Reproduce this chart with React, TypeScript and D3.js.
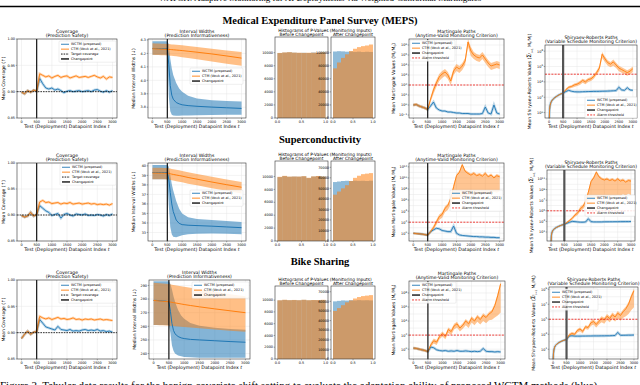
import React from 'react';
import * as d3 from 'd3';

const BLUE = '#1f77b4';
const ORANGE = '#ff7f0e';
const RED = '#ee2a24';
const SANS = '"DejaVu Sans", Verdana, sans-serif';
const SERIF = '"Liberation Serif", "Times New Roman", serif';

// x grids
const tGrid = d3.range(0, 3001, 100);
const widthT = [0, 100, 200, 300, 400, 500, 550, 600, 650, 700, 800, 900, 1000, 1200, 1500, 2000, 2500, 3000];
const srT = [5, 15, 30, 60, ...d3.range(100, 3001, 100)];
const timeTicks = [0, 500, 1000, 1500, 2000, 2500, 3000];
const binEdges = [0, 0.1, 0.2, 0.3, 0.4, 0.5, 0.6, 0.7, 0.8, 0.9, 1.0];
const changepoint = 500;
const targetCoverage = 0.9;
const martAlarm = 2; // log10
const srAlarm = 5; // log10

// ---------- MEPS ----------
const mepsCovW = [0.899,0.896,0.902,0.899,0.903,0.901,0.925,0.915,0.907,0.905,0.907,0.903,0.905,0.902,0.898,0.901,0.902,0.900,0.901,0.902,0.900,0.901,0.902,0.900,0.903,0.904,0.901,0.899,0.902,0.899,0.902];
const mepsCovC = [0.899,0.896,0.902,0.899,0.903,0.901,0.934,0.931,0.928,0.930,0.926,0.929,0.931,0.927,0.929,0.930,0.926,0.928,0.930,0.927,0.928,0.929,0.927,0.929,0.931,0.928,0.926,0.929,0.924,0.928,0.927];
const mepsWidW = [4.237,4.236,4.236,4.235,4.235,4.234,4.12,3.96,3.89,3.86,3.835,3.825,3.818,3.812,3.807,3.801,3.796,3.791];
const mepsWidWLo = [4.19,4.19,4.19,4.19,4.19,4.19,3.88,3.77,3.745,3.738,3.736,3.737,3.738,3.739,3.740,3.742,3.744,3.745];
const mepsWidWHi = [4.29,4.29,4.29,4.29,4.29,4.29,4.27,4.16,4.09,4.04,3.98,3.94,3.915,3.885,3.865,3.852,3.846,3.842];
const mepsWidC = [4.235,4.234,4.233,4.232,4.231,4.230,4.229,4.229,4.228,4.227,4.225,4.223,4.221,4.216,4.209,4.196,4.181,4.165];
const mepsWidCLo = [4.19,4.189,4.188,4.187,4.186,4.185,4.184,4.183,4.182,4.181,4.178,4.175,4.172,4.165,4.156,4.140,4.124,4.108];
const mepsWidCHi = [4.275,4.274,4.273,4.272,4.271,4.270,4.269,4.268,4.267,4.266,4.264,4.262,4.260,4.255,4.248,4.235,4.222,4.210];
const mepsHistBeforeW = [9940,10010,10060,10000,9960,9980,9950,10020,9980,10030];
const mepsHistBeforeC = [9960,10040,10080,10010,9990,9970,9990,10000,10010,10060];
const mepsHistAfterW = [101800,102300,102000,101500,101800,101200,101600,101000,101400,101100];
const mepsHistAfterC = [76000,85000,92000,97500,102500,106000,108500,110000,111000,112500];
const mepsMgW = [0,0.05,-0.1,-0.2,-0.3,-0.45,-0.1,0.3,-0.3,-0.5,-0.6,-0.6,-0.7,-0.7,-0.75,-0.8,-0.8,-0.85,-0.85,-0.85,-0.9,-0.9,-0.9,-0.9,-0.85,-0.2,-0.8,-0.9,0.0,-0.8,-0.9];
const mepsMgC = [0,0.05,-0.1,-0.2,-0.3,-0.45,0.6,1.5,2.2,2.8,3.1,3.3,3.0,2.4,3.4,3.8,3.6,3.9,4.4,6.3,5.4,5.0,4.8,4.7,5.0,4.6,4.2,3.9,4.0,4.1,4.0];
const mepsMgCLo = [-0.15,-0.1,-0.25,-0.35,-0.45,-0.6,0.3,1.1,1.8,2.4,2.7,2.9,2.6,2.0,3.0,3.4,3.2,3.5,4.0,5.8,4.9,4.6,4.4,4.3,4.6,4.2,3.8,3.5,3.6,3.7,3.6];
const mepsMgCHi = [0.15,0.2,0.05,-0.05,-0.15,-0.3,0.8,1.8,2.5,3.1,3.4,3.6,3.3,2.7,3.7,4.1,3.9,4.2,4.7,6.6,5.8,5.3,5.1,5.0,5.3,4.9,4.5,4.2,4.3,4.4,4.3];
const mepsSrW = [-0.8,0.4,0.9,1.3,1.6,1.95,2.2,2.4,2.55,2.75,2.9,2.78,2.72,2.7,2.7,2.72,2.73,2.74,2.75,2.76,2.76,2.77,2.78,2.79,2.8,2.82,2.84,2.86,3.3,2.95,2.9,3.25,2.95,2.9];
const mepsSrC = [-0.8,0.4,0.9,1.3,1.6,1.95,2.2,2.4,2.55,3.0,3.3,3.4,3.6,3.7,3.9,4.2,4.0,4.3,4.4,4.7,5.2,5.8,7.6,7.0,6.5,6.3,6.6,6.2,5.8,5.6,5.4,5.2,5.4,5.7];
const mepsSrCLo = [-0.8,0.35,0.85,1.25,1.55,1.9,2.15,2.35,2.5,2.8,3.1,3.2,3.35,3.45,3.6,3.9,3.7,4.0,4.1,4.4,4.9,5.4,7.1,6.6,6.1,5.9,6.1,5.8,5.4,5.2,5.0,4.8,5.0,5.3];
const mepsSrCHi = [-0.8,0.45,0.95,1.35,1.65,2.0,2.25,2.45,2.6,3.15,3.45,3.55,3.8,3.9,4.1,4.4,4.25,4.5,4.65,4.95,5.45,6.1,7.9,7.3,6.8,6.6,6.9,6.5,6.1,5.9,5.7,5.5,5.7,6.0];

// ---------- Superconductivity ----------
const scCovW = [0.899,0.896,0.898,0.905,0.898,0.901,0.918,0.913,0.908,0.905,0.899,0.901,0.903,0.894,0.901,0.903,0.900,0.898,0.902,0.901,0.900,0.902,0.899,0.900,0.899,0.901,0.900,0.898,0.901,0.899,0.902];
const scCovC = [0.899,0.896,0.898,0.905,0.898,0.901,0.925,0.928,0.924,0.925,0.922,0.923,0.924,0.921,0.923,0.922,0.924,0.921,0.922,0.923,0.921,0.922,0.923,0.921,0.922,0.920,0.921,0.920,0.921,0.919,0.922];
const scWidW = [39.3,39.3,39.3,39.3,39.3,39.3,38.6,37.2,36.0,35.2,34.3,33.95,33.82,33.76,33.72,33.66,33.58,33.5];
const scWidWLo = [38.6,38.6,38.6,38.6,38.6,38.6,35.8,33.6,32.8,32.55,32.5,32.6,32.7,32.8,32.85,32.9,32.85,32.8];
const scWidWHi = [40.1,40.1,40.1,40.1,40.1,40.1,39.9,39.0,38.1,37.4,36.3,35.5,35.0,34.6,34.4,34.3,34.2,34.1];
const scWidC = [39.25,39.25,39.24,39.24,39.23,39.22,39.20,39.17,39.13,39.10,39.04,38.98,38.92,38.78,38.60,38.3,38.02,37.75];
const scWidCLo = [38.6,38.6,38.59,38.59,38.58,38.57,38.55,38.52,38.48,38.45,38.39,38.33,38.27,38.13,37.95,37.65,37.37,37.1];
const scWidCHi = [39.8,39.8,39.79,39.79,39.78,39.77,39.75,39.72,39.68,39.65,39.59,39.53,39.47,39.33,39.15,38.85,38.57,38.3];
const scHistBeforeW = [9900,10050,9950,9980,9960,10020,9750,9990,10050,9960];
const scHistBeforeC = [9950,10100,9980,10000,9990,10050,9800,10020,10080,9990];
const scHistAfterW = [56000,56500,57000,57200,57000,57300,57100,57200,57000,57300];
const scHistAfterC = [44000,47000,50000,53000,57000,60000,62000,63500,64000,64500];
const scMgW = [0,-0.05,-0.1,-0.15,-0.25,-0.35,0.3,0.6,0.9,0.8,0.5,0.4,0.3,0.3,1.3,0.0,-0.3,-0.4,-0.45,-0.5,-0.55,-0.6,-0.6,-0.65,-0.65,-0.7,-0.7,-0.75,-0.75,-0.8,-0.8];
const scMgC = [0,-0.05,-0.1,-0.15,-0.25,-0.35,0.3,1.0,2.0,3.0,3.4,4.5,5.0,6.3,8.4,10.4,11.0,12.4,11.2,10.8,10.5,10.8,10.4,10.6,10.3,10.8,10.2,10.5,10.0,10.4,10.2];
const scMgCLo = [-0.2,-0.25,-0.3,-0.35,-0.45,-0.55,0.0,0.6,1.5,2.4,2.8,3.8,4.2,5.2,6.0,6.2,6.5,6.8,6.6,6.9,7.0,6.8,7.2,7.0,7.3,7.1,7.4,7.2,7.5,7.3,7.6];
const scMgCHi = [0.2,0.15,0.1,0.05,-0.05,-0.15,0.6,1.4,2.4,3.4,3.8,4.9,5.4,6.7,8.8,10.7,11.3,12.6,11.5,11.1,10.8,11.1,10.7,10.9,10.6,11.1,10.5,10.8,10.3,10.7,10.5];
const scSrW = [-0.8,0.3,0.8,1.2,1.5,1.85,2.1,2.3,2.45,2.65,2.85,3.0,2.95,2.9,2.85,2.85,2.9,3.5,2.95,2.9,2.9,2.9,2.9,2.92,2.92,2.93,2.93,2.94,2.94,2.95,2.95,2.96,2.96,2.97];
const scSrC = [-0.8,0.3,0.8,1.2,1.5,1.85,2.1,2.3,2.45,2.8,3.2,3.6,4.2,4.6,5.4,5.8,6.8,8.5,10.5,11.2,12.3,11.4,11.0,10.8,11.0,10.7,10.9,10.6,11.0,10.6,10.8,10.4,10.7,10.6];
const scSrCLo = [-0.8,0.25,0.75,1.15,1.45,1.8,2.05,2.25,2.4,2.6,3.0,3.3,3.9,4.2,4.9,5.3,6.0,6.8,7.2,7.0,7.4,7.2,7.6,7.4,7.8,7.6,7.9,7.7,8.0,7.8,8.1,7.9,8.2,8.0];
const scSrCHi = [-0.8,0.35,0.85,1.25,1.55,1.9,2.15,2.35,2.5,3.0,3.4,3.9,4.5,4.9,5.8,6.2,7.2,8.9,10.8,11.5,12.6,11.7,11.3,11.1,11.3,11.0,11.2,10.9,11.3,10.9,11.1,10.7,11.0,10.9];

// ---------- Bike Sharing ----------
const bikeCovW = [0.889,0.897,0.903,0.897,0.901,0.902,0.925,0.918,0.911,0.909,0.907,0.905,0.912,0.906,0.905,0.904,0.906,0.903,0.904,0.903,0.905,0.906,0.904,0.905,0.904,0.906,0.903,0.904,0.902,0.903,0.901];
const bikeCovC = [0.889,0.897,0.903,0.897,0.901,0.902,0.931,0.928,0.926,0.928,0.925,0.927,0.929,0.926,0.927,0.925,0.926,0.928,0.925,0.926,0.924,0.926,0.925,0.926,0.924,0.925,0.926,0.924,0.925,0.924,0.923];
const bikeWidW = [279,279,278.8,278.6,278.4,278,271,262,257,254.5,252.5,251.5,251,250.4,250,249.4,248.8,248.3];
const bikeWidWLo = [261,261,261,261,261,261,255,246,242,240,238.5,238,237.5,237.2,237,237,237,237];
const bikeWidWHi = [293,293,293,293,293,293,291,287,282,278,272,268,265.5,262.5,260.5,259,258,257.5];
const bikeWidC = [279,278.8,278.6,278.4,278.2,278,277.8,277.6,277.4,277.2,276.8,276.4,276.0,275.3,274.3,272.8,271.4,270];
const bikeWidCLo = [261,260.9,260.8,260.7,260.6,260.5,260.4,260.3,260.2,260.1,259.9,259.7,259.5,259.1,258.6,257.7,256.8,256];
const bikeWidCHi = [292,291.8,291.6,291.4,291.2,291,290.8,290.6,290.4,290.2,289.8,289.4,289,288.3,287.2,285.4,283.6,282];
const bikeHistBeforeW = [9950,10030,9980,10010,9970,10040,9960,10000,9990,10020];
const bikeHistBeforeC = [9980,10060,10000,10030,9990,10060,9990,10020,10010,10050];
const bikeHistAfterW = [60000,60500,61000,60800,61200,61000,61300,61100,61200,61000];
const bikeHistAfterC = [50000,53000,56000,59000,61000,63000,64500,65500,66000,66500];
const bikeMgW = [0.15,0.1,0.0,-0.1,-0.2,-0.35,0.3,0.2,-0.1,-0.2,-0.25,-0.2,-0.3,-0.25,-0.3,-0.2,-0.3,-0.3,-0.25,-0.3,-0.35,-0.3,-0.35,-0.3,0.1,-0.3,-0.35,-0.35,-0.4,-0.35,-0.4];
const bikeMgC = [0.15,0.1,0.0,-0.1,-0.2,-0.35,0.6,1.2,1.0,1.8,2.2,1.8,2.8,2.5,3.3,3.6,3.0,3.4,4.0,3.6,4.4,4.0,4.6,4.2,4.8,4.5,5.0,5.3,6.2,7.6,9.3];
const bikeMgCLo = [-0.05,-0.1,-0.2,-0.3,-0.4,-0.5,0.3,0.8,0.6,1.4,1.8,1.4,2.3,2.0,2.8,3.1,2.5,2.9,3.4,3.0,3.8,3.4,3.9,3.5,4.0,3.7,4.1,4.2,4.5,4.8,5.2];
const bikeMgCHi = [0.35,0.3,0.2,0.1,0.0,-0.2,0.9,1.5,1.3,2.1,2.5,2.1,3.1,2.8,3.6,3.9,3.3,3.7,4.3,3.9,4.7,4.3,4.9,4.5,5.1,4.8,5.3,5.6,6.5,8.0,9.6];
const bikeSrW = [-0.6,0.4,0.9,1.3,1.55,1.85,2.05,2.2,2.3,2.75,2.8,2.75,2.75,2.75,2.76,2.76,2.77,2.77,2.78,2.78,2.78,2.79,2.79,2.8,2.8,2.82,2.83,3.25,2.86,2.86,2.87,2.88,2.88,2.9];
const bikeSrC = [-0.6,0.4,0.9,1.3,1.55,1.85,2.05,2.2,2.3,2.9,3.1,3.0,3.5,3.7,3.4,4.0,3.9,4.5,4.7,4.3,4.7,5.1,4.9,5.4,5.1,5.6,5.3,5.8,5.5,6.0,6.4,7.0,8.0,8.8];
const bikeSrCLo = [-0.6,0.35,0.85,1.25,1.5,1.8,2.0,2.15,2.25,2.7,2.9,2.8,3.2,3.4,3.1,3.7,3.6,4.1,4.3,3.9,4.3,4.6,4.4,4.9,4.6,5.0,4.7,5.1,4.8,5.2,5.4,5.7,6.2,6.6];
const bikeSrCHi = [-0.6,0.45,0.95,1.35,1.6,1.9,2.1,2.25,2.35,3.1,3.3,3.2,3.7,3.9,3.6,4.2,4.1,4.8,5.0,4.6,5.0,5.4,5.2,5.7,5.4,5.9,5.6,6.1,5.8,6.3,6.7,7.3,8.3,9.1];

type Box = { L: number; R: number; T: number; B: number };
type Item = { label: string; color: string; w?: number; dash?: string };

const GRID = '#e6e6e6';
const fmtTime = (t: number) => String(t);

function timeScale(b: Box) {
  return d3.scaleLinear().domain([-150, 3150]).range([b.L, b.R]);
}

function Frame({ b }: { b: Box }) {
  return <rect x={b.L} y={b.T} width={b.R - b.L} height={b.B - b.T} fill="none" stroke="#333" strokeWidth={0.6} />;
}

function XTicks({ b, x, ticks, fmt }: { b: Box; x: (v: number) => number; ticks: number[]; fmt: (v: number) => string }) {
  return (
    <g>
      {ticks.map((t) => (
        <g key={t}>
          <line x1={x(t)} x2={x(t)} y1={b.B} y2={b.B + 1.3} stroke="#333" strokeWidth={0.4} />
          <text x={x(t)} y={b.B + 4.9} fontSize={3.4} textAnchor="middle">{fmt(t)}</text>
        </g>
      ))}
    </g>
  );
}

function YTicks({ b, y, ticks, fmt }: { b: Box; y: (v: number) => number; ticks: number[]; fmt: (v: number) => string }) {
  return (
    <g>
      {ticks.map((t) => (
        <g key={t}>
          <line x1={b.L - 1.3} x2={b.L} y1={y(t)} y2={y(t)} stroke="#333" strokeWidth={0.4} />
          <text x={b.L - 2} y={y(t) + 1.2} fontSize={3.4} textAnchor="end">{fmt(t)}</text>
        </g>
      ))}
    </g>
  );
}

function LogYTicks({ b, y, exps }: { b: Box; y: (v: number) => number; exps: number[] }) {
  return (
    <g>
      {exps.map((k) => (
        <g key={k}>
          <line x1={b.L - 1.3} x2={b.L} y1={y(10 ** k)} y2={y(10 ** k)} stroke="#333" strokeWidth={0.4} />
          <text x={b.L - 2} y={y(10 ** k) + 1.4} fontSize={3.4} textAnchor="end">
            10<tspan dy={-1.5} fontSize={2.5}>{k < 0 ? '\u2212' + -k : k}</tspan>
          </text>
        </g>
      ))}
    </g>
  );
}

function Grid({ b, xs, ys }: { b: Box; xs: number[]; ys: number[] }) {
  return (
    <g stroke={GRID} strokeWidth={0.5}>
      {xs.map((v, i) => <line key={'x' + i} x1={v} x2={v} y1={b.T} y2={b.B} />)}
      {ys.map((v, i) => <line key={'y' + i} x1={b.L} x2={b.R} y1={v} y2={v} />)}
    </g>
  );
}

function Title({ cx, y, lines }: { cx: number; y: number; lines: string[] }) {
  return (
    <g fontSize={4.6} textAnchor="middle">
      {lines.map((l, i) => <text key={i} x={cx} y={y + i * 4.4}>{l}</text>)}
    </g>
  );
}

function XLabel({ b }: { b: Box }) {
  return (
    <text x={(b.L + b.R) / 2} y={b.B + 9.6} fontSize={4.7} textAnchor="middle">
      Test (Deployment) Datapoint Index <tspan fontStyle="italic">t</tspan>
    </text>
  );
}

function YLabel({ x, b, children }: { x: number; b: Box; children: React.ReactNode }) {
  const cy = (b.T + b.B) / 2;
  return (
    <text transform={`translate(${x},${cy}) rotate(-90)`} fontSize={4.5} textAnchor="middle">{children}</text>
  );
}

function Legend({ x, y, w, items }: { x: number; y: number; w: number; items: Item[] }) {
  const rowH = 4.9;
  const h = items.length * rowH + 1.6;
  return (
    <g>
      <rect x={x} y={y} width={w} height={h} fill="#fff" fillOpacity={0.85} stroke="#d4d4d4" strokeWidth={0.4} rx={1} />
      {items.map((it, i) => {
        const cy = y + 0.8 + rowH * (i + 0.5);
        return (
          <g key={i}>
            <line x1={x + 2} x2={x + 10} y1={cy} y2={cy} stroke={it.color} strokeWidth={it.w ?? 0.9} strokeDasharray={it.dash} />
            <text x={x + 12} y={cy + 1.2} fontSize={3.4}>{it.label}</text>
          </g>
        );
      })}
    </g>
  );
}

const itemW: Item = { label: 'WCTM (proposed)', color: BLUE };
const itemC: Item = { label: 'CTM (Vovk et al., 2021)', color: ORANGE };
const itemCp: Item = { label: 'Changepoint', color: '#000', w: 1.3 };
const itemCpSr: Item = { label: 'Changepoint', color: '#555', w: 1.8 };
const itemAlarm: Item = { label: 'Alarm threshold', color: RED, dash: '2,1.2' };
const itemTarget: Item = { label: 'Target coverage', color: '#000', dash: '1.6,1' };

function CoveragePanel({ b, wctm, ctm, legend }: { b: Box; wctm: number[]; ctm: number[]; legend: [number, number, number] }) {
  const x = timeScale(b);
  const y = d3.scaleLinear().domain([0.85, 1.0]).range([b.B, b.T]);
  const yTicks = [0.85, 0.9, 0.95, 1.0];
  const line = d3.line<number>().x((_, i) => x(tGrid[i])).y((v) => y(v));
  return (
    <g>
      <Grid b={b} xs={timeTicks.map(x)} ys={yTicks.map(y)} />
      {[{ d: wctm, c: BLUE }, { d: ctm, c: ORANGE }].map((s, i) => (
        <g key={i}>
          <path d={line(s.d) ?? ''} fill="none" stroke={s.c} strokeOpacity={0.3} strokeWidth={2.6} />
          <path d={line(s.d) ?? ''} fill="none" stroke={s.c} strokeWidth={0.9} />
        </g>
      ))}
      <line x1={b.L} x2={b.R} y1={y(targetCoverage)} y2={y(targetCoverage)} stroke="#000" strokeWidth={0.8} strokeDasharray="1.6,1" />
      <line x1={x(changepoint)} x2={x(changepoint)} y1={b.T} y2={b.B} stroke="#000" strokeWidth={1.1} />
      <Frame b={b} />
      <XTicks b={b} x={x} ticks={timeTicks} fmt={fmtTime} />
      <YTicks b={b} y={y} ticks={yTicks} fmt={d3.format('.2f')} />
      <Legend x={legend[0]} y={legend[1]} w={legend[2]} items={[itemW, itemC, itemTarget, itemCp]} />
      <Title cx={(b.L + b.R) / 2} y={b.T - 6.3} lines={['Coverage', '(Prediction Safety)']} />
      <XLabel b={b} />
      <YLabel x={b.L - 12} b={b}>Mean Coverage (↑)</YLabel>
    </g>
  );
}

function WidthPanel(props: {
  b: Box; dom: [number, number]; ticks: number[];
  w: number[]; wLo: number[]; wHi: number[]; c: number[]; cLo: number[]; cHi: number[];
  legend: [number, number, number]; fmt: (v: number) => string;
}) {
  const { b } = props;
  const x = timeScale(b);
  const y = d3.scaleLinear().domain(props.dom).range([b.B, b.T]);
  const area = (lo: number[], hi: number[]) =>
    d3.area<number>().x((_, i) => x(widthT[i])).y0((_, i) => y(lo[i])).y1((_, i) => y(hi[i]))(lo) ?? '';
  const line = d3.line<number>().x((_, i) => x(widthT[i])).y((v) => y(v));
  return (
    <g>
      <Grid b={b} xs={timeTicks.map(x)} ys={props.ticks.map(y)} />
      <path d={area(props.wLo, props.wHi)} fill={BLUE} fillOpacity={0.55} />
      <path d={area(props.cLo, props.cHi)} fill={ORANGE} fillOpacity={0.5} />
      <path d={line(props.w) ?? ''} fill="none" stroke={BLUE} strokeWidth={1} />
      <path d={line(props.c) ?? ''} fill="none" stroke={ORANGE} strokeWidth={1} />
      <line x1={x(changepoint)} x2={x(changepoint)} y1={b.T} y2={b.B} stroke="#000" strokeWidth={1.1} />
      <Frame b={b} />
      <XTicks b={b} x={x} ticks={timeTicks} fmt={fmtTime} />
      <YTicks b={b} y={y} ticks={props.ticks} fmt={props.fmt} />
      <Legend x={props.legend[0]} y={props.legend[1]} w={props.legend[2]} items={[itemW, itemC, itemCp]} />
      <Title cx={(b.L + b.R) / 2} y={b.T - 6.3} lines={['Interval Widths', '(Prediction Informativeness)']} />
      <XLabel b={b} />
      <YLabel x={b.L - 13} b={b}>Median Interval Widths (↓)</YLabel>
    </g>
  );
}

function Histo({ b, w, c, max, ticks }: { b: Box; w: number[]; c: number[]; max: number; ticks: number[] }) {
  const x = d3.scaleLinear().domain([-0.05, 1.05]).range([b.L, b.R]);
  const y = d3.scaleLinear().domain([0, max]).range([b.B, b.T]);
  const bars = (vals: number[], color: string, op: number) =>
    vals.map((v, i) => (
      <rect key={color + i} x={x(binEdges[i])} width={x(binEdges[i + 1]) - x(binEdges[i])} y={y(v)} height={y(0) - y(v)} fill={color} fillOpacity={op} />
    ));
  return (
    <g>
      {bars(w, BLUE, 0.5)}
      {bars(c, ORANGE, 0.55)}
      <Frame b={b} />
      <XTicks b={b} x={x} ticks={[0, 0.5, 1]} fmt={d3.format('.1f')} />
      <YTicks b={b} y={y} ticks={ticks} fmt={String} />
    </g>
  );
}

function HistPanel(props: {
  a: Box; b2: Box; bw: number[]; bc: number[]; aw: number[]; ac: number[];
  maxA: number; ticksA: number[]; maxB: number; ticksB: number[];
}) {
  const { a, b2 } = props;
  return (
    <g>
      <Histo b={a} w={props.bw} c={props.bc} max={props.maxA} ticks={props.ticksA} />
      <Histo b={b2} w={props.aw} c={props.ac} max={props.maxB} ticks={props.ticksB} />
      <text x={(a.L + b2.R) / 2} y={a.T - 5.1} fontSize={4.4} textAnchor="middle">Histograms of P-Values (Monitoring Inputs)</text>
      <text x={(a.L + a.R) / 2} y={a.T - 1.2} fontSize={4.4} textAnchor="middle">Before Changepoint</text>
      <text x={(b2.L + b2.R) / 2} y={b2.T - 1.2} fontSize={4.4} textAnchor="middle">After Changepoint</text>
    </g>
  );
}

function LogPanel(props: {
  b: Box; xs: number[]; dom: [number, number]; exps: number[];
  w: number[]; c: number[]; cLo: number[]; cHi: number[]; alarm: number;
  legend: [number, number, number]; sr: boolean;
}) {
  const { b } = props;
  const x = timeScale(b);
  const y = d3.scaleLog().domain([10 ** props.dom[0], 10 ** props.dom[1]]).range([b.B, b.T]).clamp(true);
  const xs = props.xs;
  const line = d3.line<number>().x((_, i) => x(xs[i])).y((v) => y(10 ** v));
  const area = d3.area<number>().x((_, i) => x(xs[i])).y0((_, i) => y(10 ** props.cLo[i])).y1((_, i) => y(10 ** props.cHi[i]));
  const gridExps = d3.range(Math.ceil(props.dom[0]), Math.floor(props.dom[1]) + 1);
  const cpColor = props.sr ? '#555' : '#000';
  return (
    <g>
      <defs>
        <clipPath id={`clip${b.L}-${b.T}`}>
          <rect x={b.L} y={b.T} width={b.R - b.L} height={b.B - b.T} />
        </clipPath>
      </defs>
      <Grid b={b} xs={timeTicks.map(x)} ys={gridExps.map((k) => y(10 ** k))} />
      <g clipPath={`url(#clip${b.L}-${b.T})`}>
        <path d={line(props.w) ?? ''} fill="none" stroke={BLUE} strokeOpacity={0.3} strokeWidth={2.6} />
        <path d={area(props.c) ?? ''} fill={ORANGE} fillOpacity={0.45} />
        <path d={line(props.w) ?? ''} fill="none" stroke={BLUE} strokeWidth={0.9} />
        <path d={line(props.c) ?? ''} fill="none" stroke={ORANGE} strokeWidth={0.9} />
      </g>
      <line x1={b.L} x2={b.R} y1={y(10 ** props.alarm)} y2={y(10 ** props.alarm)} stroke={RED} strokeWidth={0.9} strokeDasharray="2,1.2" />
      <line x1={x(changepoint)} x2={x(changepoint)} y1={b.T} y2={b.B} stroke={cpColor} strokeWidth={props.sr ? 2.2 : 1.1} />
      <Frame b={b} />
      <XTicks b={b} x={x} ticks={timeTicks} fmt={fmtTime} />
      <LogYTicks b={b} y={y} exps={props.exps} />
      <Legend x={props.legend[0]} y={props.legend[1]} w={props.legend[2]} items={[itemW, itemC, props.sr ? itemCpSr : itemCp, itemAlarm]} />
      {props.sr ? (
        <>
          <Title cx={(b.L + b.R) / 2} y={b.T - 6.3} lines={['Shiryaev-Roberts Paths', '(Variable Schedule Monitoring Criterion)']} />
          <YLabel x={b.L - 14} b={b}>
            Mean Shiryaev-Roberts Values (<tspan fontSize={6}>Σ</tspan>
            <tspan fontSize={2.6} dy={-1.5}>t</tspan><tspan fontSize={2.6} dy={3}>i=1</tspan>
            <tspan dy={-1.5}> M</tspan><tspan fontSize={3} dy={1}>t</tspan><tspan dy={-1}>/M</tspan>
            <tspan fontSize={3} dy={1}>i</tspan><tspan dy={-1}>)</tspan>
          </YLabel>
        </>
      ) : (
        <>
          <Title cx={(b.L + b.R) / 2} y={b.T - 6.3} lines={['Martingale Paths', '(Anytime-Valid Monitoring Criterion)']} />
          <YLabel x={b.L - 14} b={b}>
            Mean Martingale Values (M<tspan fontSize={3} dy={1}>t</tspan><tspan dy={-1}>/M</tspan>
            <tspan fontSize={3} dy={1}>0</tspan><tspan dy={-1}>)</tspan>
          </YLabel>
        </>
      )}
      <XLabel b={b} />
    </g>
  );
}

const rows = [
  { name: 'Medical Expenditure Panel Survey (MEPS)', nameY: 23.5, T: 39, B: 118 },
  { name: 'Superconductivity', nameY: 143, T: 163, B: 241 },
  { name: 'Bike Sharing', nameY: 265, T: 280, B: 359 },
];

export default function App() {
  const [r1, r2, r3] = rows;
  const box = (L: number, R: number, r: { T: number; B: number }, dt = 0): Box => ({ L, R, T: r.T + dt, B: r.B });
  return (
    <svg width={640} height={385} viewBox="0 0 640 385" style={{ display: 'block', position: 'absolute', left: 0, top: 0, background: '#fff' }} fontFamily={SANS}>
      <rect width={640} height={385} fill="#fff" />
      {/* running header of the page, cut by the crop, and its rule */}
      <text x={320} y={0.6} fontFamily={SERIF} fontSize={9} textAnchor="middle">
        WATCH: Adaptive Monitoring for AI Deployments via Weighted-Conformal Martingales
      </text>
      <line x1={0} x2={640} y1={6.5} y2={6.5} stroke="#000" strokeWidth={1.3} />
      {rows.map((r) => (
        <text key={r.name} x={320} y={r.nameY} fontFamily={SERIF} fontWeight="bold" fontSize={10.5} textAnchor="middle">{r.name}</text>
      ))}

      {/* MEPS */}
      <CoveragePanel b={box(17, 117, r1)} wctm={mepsCovW} ctm={mepsCovC} legend={[59, 41, 57]} />
      <WidthPanel b={box(148, 246, r1)} dom={[3.72, 4.307]} ticks={[3.8, 3.9, 4.0, 4.1, 4.2, 4.3]} fmt={d3.format('.1f')}
        w={mepsWidW} wLo={mepsWidWLo} wHi={mepsWidWHi} c={mepsWidC} cLo={mepsWidCLo} cHi={mepsWidCHi} legend={[190, 68, 53]} />
      <HistPanel a={box(275, 328, { T: 37, B: 118 })} b2={box(331, 375, { T: 37, B: 118 })}
        bw={mepsHistBeforeW} bc={mepsHistBeforeC} aw={mepsHistAfterW} ac={mepsHistAfterC}
        maxA={12400} ticksA={[0, 2000, 4000, 6000, 8000, 10000]} maxB={124000} ticksB={[0, 20000, 40000, 60000, 80000, 100000]} />
      <LogPanel b={box(409, 504, r1)} xs={tGrid} dom={[-1.3, 6.6]} exps={[-1, 0, 1, 2, 3, 4, 5, 6]}
        w={mepsMgW} c={mepsMgC} cLo={mepsMgCLo} cHi={mepsMgCHi} alarm={martAlarm} legend={[410, 40, 45]} sr={false} />
      <LogPanel b={box(545, 637, r1, 6)} xs={srT} dom={[-0.7, 8.8]} exps={[0, 2, 4, 6, 8]}
        w={mepsSrW} c={mepsSrC} cLo={mepsSrCLo} cHi={mepsSrCHi} alarm={srAlarm} legend={[585, 97, 52]} sr={true} />

      {/* Superconductivity */}
      <CoveragePanel b={box(17, 117, r2)} wctm={scCovW} ctm={scCovC} legend={[60, 164, 56]} />
      <WidthPanel b={box(148, 246, r2)} dom={[32.1, 40.3]} ticks={[33, 34, 35, 36, 37, 38, 39, 40]} fmt={String}
        w={scWidW} wLo={scWidWLo} wHi={scWidWHi} c={scWidC} cLo={scWidCLo} cHi={scWidCHi} legend={[190, 190, 53]} />
      <HistPanel a={box(275, 328, { T: 161, B: 241 })} b2={box(331, 375, { T: 161, B: 241 })}
        bw={scHistBeforeW} bc={scHistBeforeC} aw={scHistAfterW} ac={scHistAfterC}
        maxA={12400} ticksA={[0, 2000, 4000, 6000, 8000, 10000]} maxB={76000} ticksB={[0, 10000, 20000, 30000, 40000, 50000, 60000, 70000]} />
      <LogPanel b={box(409, 504, r2)} xs={tGrid} dom={[-1.4, 12.7]} exps={[0, 2, 4, 6, 8, 10, 12]}
        w={scMgW} c={scMgC} cLo={scMgCLo} cHi={scMgCHi} alarm={martAlarm} legend={[450, 190, 53]} sr={false} />
      <LogPanel b={box(547, 635, r2, 7)} xs={srT} dom={[-0.7, 12.7]} exps={[1, 3, 5, 7, 9, 11]}
        w={scSrW} c={scSrC} cLo={scSrCLo} cHi={scSrCHi} alarm={srAlarm} legend={[585, 195, 50]} sr={true} />

      {/* Bike Sharing */}
      <CoveragePanel b={box(17, 117, r3)} wctm={bikeCovW} ctm={bikeCovC} legend={[59, 282, 57]} />
      <WidthPanel b={box(149, 250, r3)} dom={[236, 294]} ticks={[240, 250, 260, 270, 280, 290]} fmt={String}
        w={bikeWidW} wLo={bikeWidWLo} wHi={bikeWidWHi} c={bikeWidC} cLo={bikeWidCLo} cHi={bikeWidCHi} legend={[192, 282, 57]} />
      <HistPanel a={box(275, 328, { T: 286, B: 359 })} b2={box(331, 375, { T: 286, B: 359 })}
        bw={bikeHistBeforeW} bc={bikeHistBeforeC} aw={bikeHistAfterW} ac={bikeHistAfterC}
        maxA={12400} ticksA={[0, 2000, 4000, 6000, 8000, 10000]} maxB={76000} ticksB={[0, 10000, 20000, 30000, 40000, 50000, 60000, 70000]} />
      <LogPanel b={box(409, 505, r3, 1)} xs={tGrid} dom={[-1.4, 9.7]} exps={[0, 2, 4, 6, 8]}
        w={bikeMgW} c={bikeMgC} cLo={bikeMgCLo} cHi={bikeMgCHi} alarm={martAlarm} legend={[410, 282, 46]} sr={false} />
      <LogPanel b={box(549, 638, r3, 7)} xs={srT} dom={[-0.3, 9.3]} exps={[1, 3, 5, 7, 9]}
        w={bikeSrW} c={bikeSrC} cLo={bikeSrCLo} cHi={bikeSrCHi} alarm={srAlarm} legend={[550, 289, 48]} sr={true} />

      <text x={0} y={389} fontFamily={SERIF} fontSize={11}>
        Figure 2. Tabular data results for the benign covariate shift setting to evaluate the adaptation ability of proposed WCTM methods (blue)
      </text>
    </svg>
  );
}
